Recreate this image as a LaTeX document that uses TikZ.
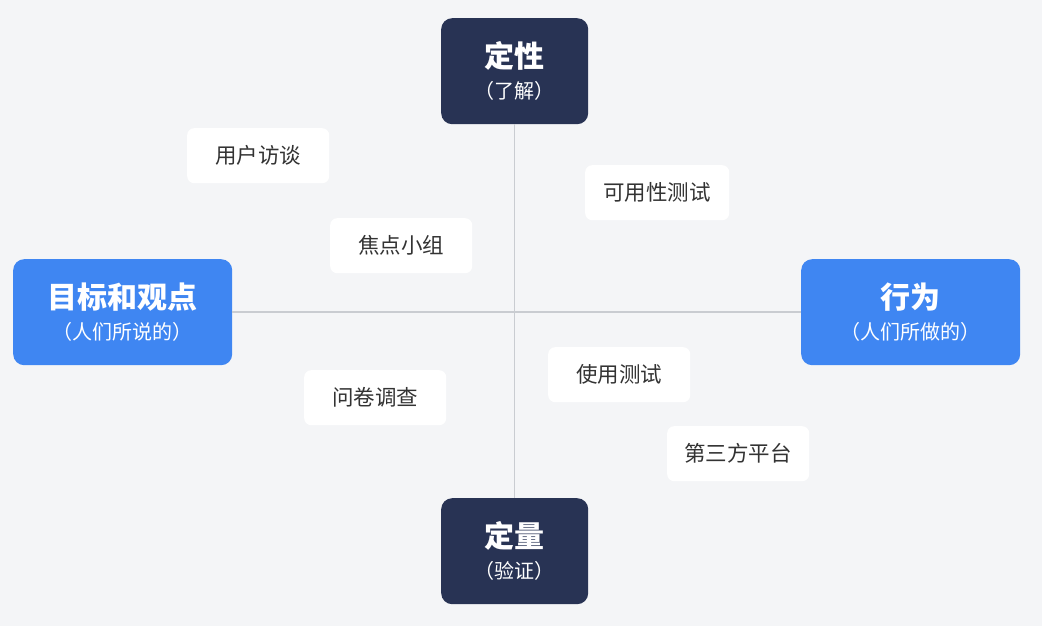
\documentclass[tikz,border=0pt]{standalone}
\usepackage{fontspec}
\setmainfont{Noto Sans CJK SC}
\definecolor{bg}{HTML}{F4F5F7}
\definecolor{navy}{HTML}{283354}
\definecolor{blu}{HTML}{3F86F2}
\definecolor{ln}{HTML}{C9CCD1}
\definecolor{txt}{HTML}{333333}
\begin{document}
\begin{tikzpicture}[x=1pt,y=-1pt,
  bigbox/.style={rounded corners=11pt,text=white,align=center,inner sep=0pt,anchor=north west,font=\fontsize{20}{31}\selectfont},
  smallbox/.style={fill=white,rounded corners=7pt,text=txt,inner sep=0pt,anchor=north west,minimum width=142pt,minimum height=55pt,font=\fontsize{21.5}{24}\selectfont},
  axis/.style={draw=ln,line width=1.5pt}]
\fill[bg] (0,0) rectangle (1042,626);
\useasboundingbox (0,0) rectangle (1042,626);
\newcommand\bigttl[2]{{\fontsize{30}{31}\selectfont\bfseries #1}\\{#2}}
\node[bigbox,fill=navy,minimum width=147pt,minimum height=106pt] (top) at (441,18)
  {\bigttl{定性}{（了解）}};
\node[bigbox,fill=navy,minimum width=147pt,minimum height=106pt] (bot) at (441,498)
  {\bigttl{定量}{（验证）}};
\node[bigbox,fill=blu,minimum width=219pt,minimum height=106pt] (left) at (13,259)
  {\bigttl{目标和观点}{（人们所说的）}};
\node[bigbox,fill=blu,minimum width=219pt,minimum height=106pt] (right) at (801,259)
  {\bigttl{行为}{（人们所做的）}};
\draw[axis] (top.south) -- (bot.north);
\draw[axis] (left.east) -- (right.west);
\node[smallbox] (a) at (187,128) {用户访谈};
\node[smallbox,minimum width=144pt] (b) at (585,165) {可用性测试};
\node[smallbox] (c) at (330,218) {焦点小组};
\node[smallbox] (d) at (548,347) {使用测试};
\node[smallbox] (e) at (304,370) {问卷调查};
\node[smallbox] (f) at (667,426) {第三方平台};
\end{tikzpicture}
\end{document}
